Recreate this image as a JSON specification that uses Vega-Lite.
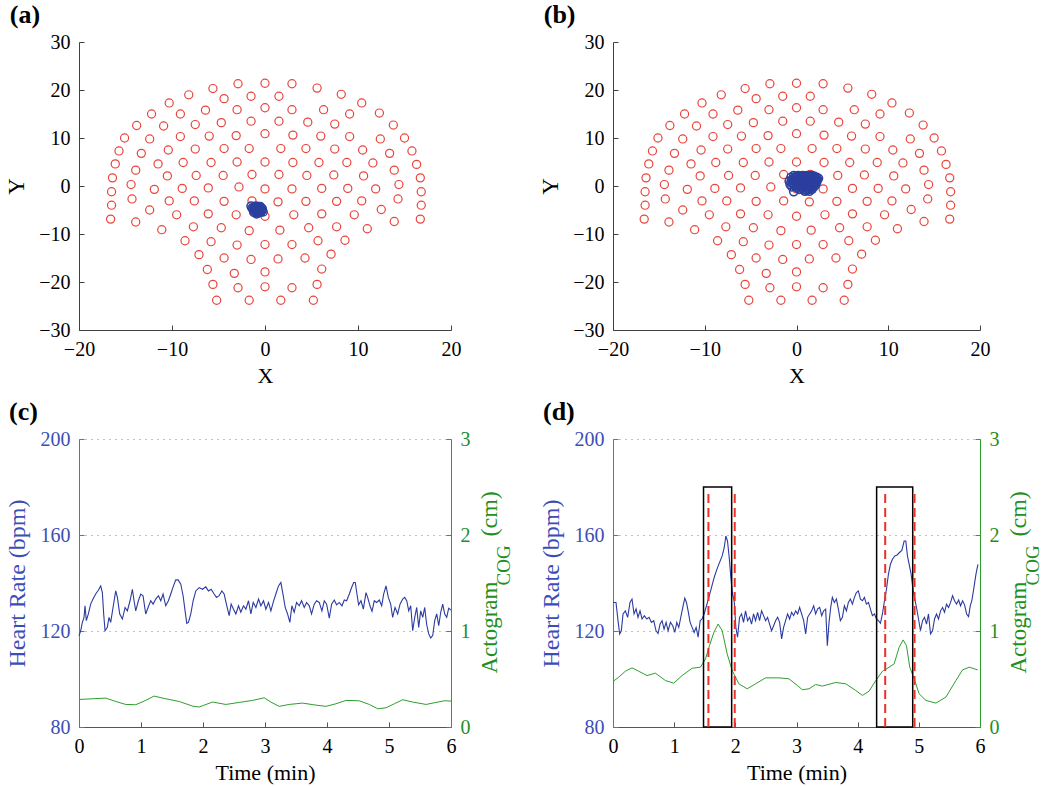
{
  "$schema": "https://vega.github.io/schema/vega-lite/v6.json",
  "background": "white",
  "padding": {"left": 5, "top": 2, "right": 5, "bottom": 5},
  "bounds": "flush",
  "columns": 2,
  "spacing": {"row": 109, "column": 162},
  "concat": [
    {
      "width": 372, "height": 288,
      "title": {"text": "(a)", "font": "Liberation Serif", "fontSize": 26, "fontWeight": "bold", "anchor": "start", "frame": "bounds", "color": "#000000", "offset": 4, "dx": 4},
      "layer": [
        {
          "data": {"name": "elec"},
          "mark": {"type": "point", "shape": "circle", "filled": false, "color": "#e8453c", "size": 66, "strokeWidth": 1.2, "opacity": 1},
          "encoding": {
            "x": {"field": "x", "type": "quantitative", "scale": {"domain": [-20, 20], "nice": false}, "axis": {"title": "X", "values": [-20, -10, 0, 10, 20], "format": "d", "labelFont": "Liberation Serif", "labelFontSize": 20, "titleFont": "Liberation Serif", "titleFontSize": 22, "titleFontWeight": "normal", "tickSize": -5, "labelPadding": 14, "titlePadding": 6, "domainColor": "#404040", "tickColor": "#404040", "labelColor": "#000000", "titleColor": "#000000", "grid": false, "labelFlush": false, "labelOverlap": false}},
            "y": {"field": "y", "type": "quantitative", "scale": {"domain": [-30, 30], "nice": false}, "axis": {"title": "Y", "values": [-30, -20, -10, 0, 10, 20, 30], "format": "d", "labelFont": "Liberation Serif", "labelFontSize": 20, "titleFont": "Liberation Serif", "titleFontSize": 23, "titleFontWeight": "normal", "tickSize": -5, "labelPadding": 14, "titlePadding": 10, "domainColor": "#404040", "tickColor": "#404040", "labelColor": "#000000", "titleColor": "#000000", "grid": false, "labelFlush": false, "labelOverlap": false}}
          }
        },
        {
          "data": {"name": "cogA"},
          "mark": {"type": "point", "shape": "circle", "filled": false, "color": "#2b3f9e", "size": 66, "strokeWidth": 1.5, "opacity": 1},
          "encoding": {
            "x": {"field": "x", "type": "quantitative"},
            "y": {"field": "y", "type": "quantitative"}
          }
        }
      ]
    },
    {
      "width": 367, "height": 288,
      "title": {"text": "(b)", "font": "Liberation Serif", "fontSize": 26, "fontWeight": "bold", "anchor": "start", "frame": "bounds", "color": "#000000", "offset": 4, "dx": 4},
      "layer": [
        {
          "data": {"name": "elec"},
          "mark": {"type": "point", "shape": "circle", "filled": false, "color": "#e8453c", "size": 66, "strokeWidth": 1.2, "opacity": 1},
          "encoding": {
            "x": {"field": "x", "type": "quantitative", "scale": {"domain": [-20, 20], "nice": false}, "axis": {"title": "X", "values": [-20, -10, 0, 10, 20], "format": "d", "labelFont": "Liberation Serif", "labelFontSize": 20, "titleFont": "Liberation Serif", "titleFontSize": 22, "titleFontWeight": "normal", "tickSize": -5, "labelPadding": 14, "titlePadding": 6, "domainColor": "#404040", "tickColor": "#404040", "labelColor": "#000000", "titleColor": "#000000", "grid": false, "labelFlush": false, "labelOverlap": false}},
            "y": {"field": "y", "type": "quantitative", "scale": {"domain": [-30, 30], "nice": false}, "axis": {"title": "Y", "values": [-30, -20, -10, 0, 10, 20, 30], "format": "d", "labelFont": "Liberation Serif", "labelFontSize": 20, "titleFont": "Liberation Serif", "titleFontSize": 23, "titleFontWeight": "normal", "tickSize": -5, "labelPadding": 14, "titlePadding": 10, "domainColor": "#404040", "tickColor": "#404040", "labelColor": "#000000", "titleColor": "#000000", "grid": false, "labelFlush": false, "labelOverlap": false}}
          }
        },
        {
          "data": {"name": "cogB"},
          "mark": {"type": "point", "shape": "circle", "filled": false, "color": "#2b3f9e", "size": 66, "strokeWidth": 1.5, "opacity": 1},
          "encoding": {
            "x": {"field": "x", "type": "quantitative"},
            "y": {"field": "y", "type": "quantitative"}
          }
        }
      ]
    },
    {
      "width": 372, "height": 288,
      "title": {"text": "(c)", "font": "Liberation Serif", "fontSize": 26, "fontWeight": "bold", "anchor": "start", "frame": "bounds", "color": "#000000", "offset": 4, "dx": 4},
      "resolve": {"scale": {"y": "independent"}},
      "layer": [
        {
          "data": {"name": "hrC"},
          "mark": {"type": "line", "color": "#2b3ba0", "strokeWidth": 1.1},
          "encoding": {
            "x": {"field": "t", "type": "quantitative", "scale": {"domain": [0, 6], "nice": false}, "axis": {"title": "Time (min)", "values": [0, 1, 2, 3, 4, 5, 6], "format": "d", "labelFont": "Liberation Serif", "labelFontSize": 20, "titleFont": "Liberation Serif", "titleFontSize": 22, "titleFontWeight": "normal", "tickSize": -5, "labelPadding": 14, "titlePadding": 6, "domainColor": "#555555", "tickColor": "#555555", "labelColor": "#000000", "titleColor": "#000000", "grid": false, "labelFlush": false, "labelOverlap": false}},
            "y": {"field": "hr", "type": "quantitative", "scale": {"domain": [80, 200], "nice": false}, "axis": {"title": "Heart Rate (bpm)", "orient": "left", "values": [80, 120, 160, 200], "format": "d", "labelFont": "Liberation Serif", "labelFontSize": 20, "titleFont": "Liberation Serif", "titleFontSize": 24, "titleFontWeight": "normal", "tickSize": -5, "labelPadding": 14, "titlePadding": 11, "labelFlush": false, "labelOverlap": false, "grid": true, "gridColor": "#7080d4", "gridDash": [1, 5], "gridWidth": 1, "domainColor": "#5a6ccc", "tickColor": "#5a6ccc", "labelColor": "#3b4db8", "titleColor": "#3b4db8"}}
          }
        },
        {
          "data": {"name": "actC"},
          "mark": {"type": "line", "color": "#2e9e2e", "strokeWidth": 1},
          "encoding": {
            "x": {"field": "t", "type": "quantitative"},
            "y": {"field": "a", "type": "quantitative", "scale": {"domain": [0, 3], "nice": false}, "axis": {"orient": "right", "values": [0, 1, 2, 3], "format": "d", "labelFont": "Liberation Serif", "labelFontSize": 20, "tickSize": -5, "labelPadding": 14, "labelFlush": false, "labelOverlap": false, "grid": false, "title": "Actogram", "titleFont": "Liberation Serif", "titleFontSize": 23, "titleFontWeight": "normal", "titleAngle": 270, "titleX": 45, "titleY": 234, "titleAlign": "left", "titleBaseline": "alphabetic", "domainColor": "#2e9e2e", "tickColor": "#2e9e2e", "labelColor": "#1f8f1f", "titleColor": "#1f8f1f"}}
          }
        },
        {
          "data": {"name": "actC"},
          "mark": {"type": "line", "strokeOpacity": 0},
          "encoding": {
            "x": {"field": "t", "type": "quantitative"},
            "y": {"field": "a", "type": "quantitative", "scale": {"domain": [0, 3], "nice": false}, "axis": {"orient": "right", "labels": false, "ticks": false, "domain": false, "grid": false, "title": "COG", "titleFont": "Liberation Serif", "titleFontSize": 19, "titleFontWeight": "normal", "titleAngle": 270, "titleX": 58, "titleY": 146, "titleAlign": "left", "titleBaseline": "alphabetic", "titleColor": "#1f8f1f"}}
          }
        },
        {
          "data": {"name": "actC"},
          "mark": {"type": "line", "strokeOpacity": 0},
          "encoding": {
            "x": {"field": "t", "type": "quantitative"},
            "y": {"field": "a", "type": "quantitative", "scale": {"domain": [0, 3], "nice": false}, "axis": {"orient": "right", "labels": false, "ticks": false, "domain": false, "grid": false, "title": "(cm)", "titleFont": "Liberation Serif", "titleFontSize": 24, "titleFontWeight": "normal", "titleAngle": 270, "titleX": 45, "titleY": 97, "titleAlign": "left", "titleBaseline": "alphabetic", "titleColor": "#1f8f1f"}}
          }
        }
      ]
    },
    {
      "width": 367, "height": 288,
      "title": {"text": "(d)", "font": "Liberation Serif", "fontSize": 26, "fontWeight": "bold", "anchor": "start", "frame": "bounds", "color": "#000000", "offset": 4, "dx": 4},
      "resolve": {"scale": {"y": "independent"}},
      "layer": [
        {
          "data": {"name": "hrD"},
          "mark": {"type": "line", "color": "#2b3ba0", "strokeWidth": 1.1},
          "encoding": {
            "x": {"field": "t", "type": "quantitative", "scale": {"domain": [0, 6], "nice": false}, "axis": {"title": "Time (min)", "values": [0, 1, 2, 3, 4, 5, 6], "format": "d", "labelFont": "Liberation Serif", "labelFontSize": 20, "titleFont": "Liberation Serif", "titleFontSize": 22, "titleFontWeight": "normal", "tickSize": -5, "labelPadding": 14, "titlePadding": 6, "domainColor": "#555555", "tickColor": "#555555", "labelColor": "#000000", "titleColor": "#000000", "grid": false, "labelFlush": false, "labelOverlap": false}},
            "y": {"field": "hr", "type": "quantitative", "scale": {"domain": [80, 200], "nice": false}, "axis": {"title": "Heart Rate (bpm)", "orient": "left", "values": [80, 120, 160, 200], "format": "d", "labelFont": "Liberation Serif", "labelFontSize": 20, "titleFont": "Liberation Serif", "titleFontSize": 24, "titleFontWeight": "normal", "tickSize": -5, "labelPadding": 14, "titlePadding": 11, "labelFlush": false, "labelOverlap": false, "grid": true, "gridColor": "#7080d4", "gridDash": [1, 5], "gridWidth": 1, "domainColor": "#5a6ccc", "tickColor": "#5a6ccc", "labelColor": "#3b4db8", "titleColor": "#3b4db8"}}
          }
        },
        {
          "data": {"name": "actD"},
          "mark": {"type": "line", "color": "#2e9e2e", "strokeWidth": 1},
          "encoding": {
            "x": {"field": "t", "type": "quantitative"},
            "y": {"field": "a", "type": "quantitative", "scale": {"domain": [0, 3], "nice": false}, "axis": {"orient": "right", "values": [0, 1, 2, 3], "format": "d", "labelFont": "Liberation Serif", "labelFontSize": 20, "tickSize": -5, "labelPadding": 14, "labelFlush": false, "labelOverlap": false, "grid": false, "title": "Actogram", "titleFont": "Liberation Serif", "titleFontSize": 23, "titleFontWeight": "normal", "titleAngle": 270, "titleX": 45, "titleY": 234, "titleAlign": "left", "titleBaseline": "alphabetic", "domainColor": "#2e9e2e", "tickColor": "#2e9e2e", "labelColor": "#1f8f1f", "titleColor": "#1f8f1f"}}
          }
        },
        {
          "data": {"name": "actD"},
          "mark": {"type": "line", "strokeOpacity": 0},
          "encoding": {
            "x": {"field": "t", "type": "quantitative"},
            "y": {"field": "a", "type": "quantitative", "scale": {"domain": [0, 3], "nice": false}, "axis": {"orient": "right", "labels": false, "ticks": false, "domain": false, "grid": false, "title": "COG", "titleFont": "Liberation Serif", "titleFontSize": 19, "titleFontWeight": "normal", "titleAngle": 270, "titleX": 58, "titleY": 146, "titleAlign": "left", "titleBaseline": "alphabetic", "titleColor": "#1f8f1f"}}
          }
        },
        {
          "data": {"name": "actD"},
          "mark": {"type": "line", "strokeOpacity": 0},
          "encoding": {
            "x": {"field": "t", "type": "quantitative"},
            "y": {"field": "a", "type": "quantitative", "scale": {"domain": [0, 3], "nice": false}, "axis": {"orient": "right", "labels": false, "ticks": false, "domain": false, "grid": false, "title": "(cm)", "titleFont": "Liberation Serif", "titleFontSize": 24, "titleFontWeight": "normal", "titleAngle": 270, "titleX": 45, "titleY": 97, "titleAlign": "left", "titleBaseline": "alphabetic", "titleColor": "#1f8f1f"}}
          }
        },
        {
          "data": {"name": "boxes"},
          "mark": {"type": "rect", "fillOpacity": 0, "stroke": "#000000", "strokeWidth": 1.5},
          "encoding": {
            "x": {"field": "t1", "type": "quantitative"},
            "x2": {"field": "t2"},
            "y": {"field": "lo", "type": "quantitative", "scale": {"domain": [80, 200], "nice": false}, "axis": null},
            "y2": {"field": "hi"}
          }
        },
        {
          "data": {"name": "dashes"},
          "mark": {"type": "rule", "color": "#e8332a", "strokeDash": [9, 5], "strokeWidth": 2},
          "encoding": {
            "x": {"field": "t", "type": "quantitative"},
            "y": {"field": "lo", "type": "quantitative", "scale": {"domain": [80, 200], "nice": false}, "axis": null},
            "y2": {"field": "hi"}
          }
        }
      ]
    }
  ],
  "datasets": {
    "elec": [
      {"x": -2.9, "y": 21.3}, {"x": 0, "y": 21.4}, {"x": 2.9, "y": 21.3}, {"x": -5.6, "y": 20.3}, {"x": 5.6, "y": 20.4}, {"x": -8.2, "y": 19.0}, {"x": 8.2, "y": 19.1}, {"x": -4.4, "y": 18.2}, {"x": -1.5, "y": 18.7}, {"x": 1.5, "y": 18.7}, {"x": -10.3, "y": 17.3}, {"x": 10.4, "y": 17.3},
      {"x": -12.2, "y": 15.0}, {"x": -9.1, "y": 15.0}, {"x": -6.4, "y": 15.8}, {"x": -3.0, "y": 15.9}, {"x": 0, "y": 16.3}, {"x": 2.9, "y": 15.9}, {"x": 6.3, "y": 15.9}, {"x": 9.1, "y": 15.0}, {"x": 12.3, "y": 15.2},
      {"x": -13.8, "y": 12.6}, {"x": -10.9, "y": 12.5}, {"x": -7.5, "y": 12.8}, {"x": -4.7, "y": 13.2}, {"x": -1.5, "y": 13.5}, {"x": 1.5, "y": 13.5}, {"x": 4.6, "y": 13.3}, {"x": 7.5, "y": 12.9}, {"x": 13.8, "y": 12.7},
      {"x": -15.1, "y": 10.0}, {"x": -12.4, "y": 9.8}, {"x": -9.1, "y": 10.3}, {"x": -6.0, "y": 10.4}, {"x": -3.1, "y": 10.5}, {"x": 0, "y": 10.9}, {"x": 3.0, "y": 10.6}, {"x": 6.0, "y": 10.4}, {"x": 9.1, "y": 10.3}, {"x": 12.4, "y": 9.8}, {"x": 15.0, "y": 10.0},
      {"x": -15.7, "y": 7.3}, {"x": -13.3, "y": 6.8}, {"x": -10.4, "y": 7.5}, {"x": -7.5, "y": 7.7}, {"x": -4.4, "y": 7.8}, {"x": -1.7, "y": 7.8}, {"x": 1.7, "y": 7.8}, {"x": 4.4, "y": 7.8}, {"x": 7.5, "y": 7.7}, {"x": 10.5, "y": 7.5}, {"x": 13.4, "y": 6.8}, {"x": 15.8, "y": 7.3},
      {"x": -16.1, "y": 4.6}, {"x": -13.9, "y": 3.3}, {"x": -11.5, "y": 4.6}, {"x": -8.8, "y": 4.9}, {"x": -5.8, "y": 4.9}, {"x": -3.0, "y": 5.0}, {"x": 0, "y": 5.0}, {"x": 3.0, "y": 4.9}, {"x": 5.8, "y": 4.9}, {"x": 8.8, "y": 4.9}, {"x": 11.6, "y": 4.8}, {"x": 13.9, "y": 3.3}, {"x": 16.3, "y": 4.5},
      {"x": -16.4, "y": 1.7}, {"x": -10.5, "y": 2.1}, {"x": -7.4, "y": 2.2}, {"x": -4.5, "y": 2.2}, {"x": -1.4, "y": 2.4}, {"x": 1.5, "y": 2.4}, {"x": 4.5, "y": 2.2}, {"x": 7.4, "y": 2.3}, {"x": 10.6, "y": 2.1}, {"x": 16.7, "y": 1.7},
      {"x": -14.4, "y": 0.3}, {"x": 14.4, "y": 0.3},
      {"x": -16.5, "y": -1.2}, {"x": -11.9, "y": -0.7}, {"x": -8.9, "y": -0.5}, {"x": -6.1, "y": -0.4}, {"x": -2.8, "y": -0.2}, {"x": 0, "y": -0.6}, {"x": 2.9, "y": -0.6}, {"x": 6.1, "y": -0.5}, {"x": 8.9, "y": -0.5}, {"x": 11.9, "y": -0.6}, {"x": 16.8, "y": -1.2},
      {"x": -14.3, "y": -2.7}, {"x": -10.3, "y": -3.1}, {"x": -7.6, "y": -3.1}, {"x": -4.4, "y": -3.2}, {"x": -1.4, "y": -3.1}, {"x": 1.4, "y": -3.3}, {"x": 4.4, "y": -3.2}, {"x": 7.7, "y": -3.2}, {"x": 10.4, "y": -3.1}, {"x": 14.3, "y": -2.7},
      {"x": -16.5, "y": -4.0}, {"x": 16.8, "y": -4.0}, {"x": -12.4, "y": -5.0}, {"x": 12.5, "y": -4.9},
      {"x": -16.6, "y": -6.9}, {"x": -13.9, "y": -7.5}, {"x": -9.5, "y": -6.0}, {"x": -6.1, "y": -5.8}, {"x": -3.1, "y": -6.0}, {"x": 0, "y": -6.3}, {"x": 3.1, "y": -6.0}, {"x": 6.1, "y": -5.8}, {"x": 9.6, "y": -6.0}, {"x": 13.9, "y": -7.4}, {"x": 16.7, "y": -6.9},
      {"x": -11.1, "y": -9.1}, {"x": -7.7, "y": -8.5}, {"x": -4.7, "y": -8.7}, {"x": -1.7, "y": -9.3}, {"x": 1.6, "y": -9.2}, {"x": 4.7, "y": -8.7}, {"x": 7.7, "y": -8.5}, {"x": 11.0, "y": -8.9},
      {"x": -8.6, "y": -11.4}, {"x": -5.8, "y": -11.6}, {"x": -3.0, "y": -12.3}, {"x": 0, "y": -12.2}, {"x": 2.9, "y": -12.2}, {"x": 5.7, "y": -11.4}, {"x": 8.6, "y": -11.3},
      {"x": -7.1, "y": -14.3}, {"x": -4.4, "y": -15.0}, {"x": -1.5, "y": -15.3}, {"x": 1.4, "y": -15.2}, {"x": 4.3, "y": -15.0}, {"x": 7.1, "y": -14.2},
      {"x": -6.2, "y": -17.4}, {"x": -3.3, "y": -18.2}, {"x": 0, "y": -17.9}, {"x": 6.1, "y": -17.3},
      {"x": -5.6, "y": -20.5}, {"x": -2.9, "y": -21.2}, {"x": 0, "y": -21.0}, {"x": 2.9, "y": -21.2}, {"x": 5.6, "y": -20.5},
      {"x": -5.2, "y": -23.8}, {"x": -1.7, "y": -23.8}, {"x": 1.7, "y": -23.8}, {"x": 5.2, "y": -23.8}
    ],
    "cogA": [
      {"x": -1.2, "y": -4.4}, {"x": -1.0, "y": -4.2}, {"x": -0.7, "y": -4.3}, {"x": -0.5, "y": -4.5}, {"x": -1.3, "y": -4.8}, {"x": -1.1, "y": -4.9}, {"x": -0.9, "y": -4.7}, {"x": -0.6, "y": -4.8}, {"x": -0.4, "y": -4.9}, {"x": -1.2, "y": -5.2},
      {"x": -1.0, "y": -5.3}, {"x": -0.8, "y": -5.1}, {"x": -0.6, "y": -5.2}, {"x": -0.4, "y": -5.3}, {"x": -0.9, "y": -5.5}, {"x": -0.7, "y": -5.6}, {"x": -0.5, "y": -5.5}, {"x": -1.4, "y": -4.6}, {"x": -0.3, "y": -5.0}, {"x": -0.8, "y": -4.5},
      {"x": -1.1, "y": -4.5}, {"x": -0.6, "y": -5.0}, {"x": -1.0, "y": -5.0}, {"x": -0.7, "y": -4.9}, {"x": -0.2, "y": -5.4}, {"x": -1.5, "y": -4.2}, {"x": -0.3, "y": -4.7}, {"x": -0.9, "y": -5.8}, {"x": -1.2, "y": -5.5}, {"x": -0.5, "y": -4.3}
    ],
    "cogB": [
      {"x": -0.3, "y": 2.2}, {"x": 0.2, "y": 2.2}, {"x": 0.7, "y": 2.2}, {"x": 1.2, "y": 2.2}, {"x": 1.7, "y": 2.2},
      {"x": -0.6, "y": 1.8}, {"x": -0.1, "y": 1.8}, {"x": 0.4, "y": 1.8}, {"x": 0.9, "y": 1.8}, {"x": 1.4, "y": 1.8}, {"x": 1.9, "y": 1.8}, {"x": 2.2, "y": 1.8},
      {"x": -0.5, "y": 1.3}, {"x": 0.0, "y": 1.3}, {"x": 0.5, "y": 1.3}, {"x": 1.0, "y": 1.3}, {"x": 1.5, "y": 1.3}, {"x": 2.0, "y": 1.3}, {"x": 2.3, "y": 1.3},
      {"x": -0.6, "y": 0.8}, {"x": -0.1, "y": 0.8}, {"x": 0.4, "y": 0.8}, {"x": 0.9, "y": 0.8}, {"x": 1.4, "y": 0.8}, {"x": 1.9, "y": 0.8}, {"x": 2.2, "y": 0.8},
      {"x": -0.7, "y": 0.3}, {"x": -0.2, "y": 0.3}, {"x": 0.3, "y": 0.3}, {"x": 0.8, "y": 0.3}, {"x": 1.3, "y": 0.3}, {"x": 1.8, "y": 0.3}, {"x": 2.1, "y": 0.3},
      {"x": -0.5, "y": -0.2}, {"x": 0.0, "y": -0.2}, {"x": 0.5, "y": -0.2}, {"x": 1.0, "y": -0.2}, {"x": 1.5, "y": -0.2}, {"x": 1.9, "y": -0.2},
      {"x": 0.3, "y": -0.7}, {"x": 0.8, "y": -0.7}, {"x": 1.3, "y": -0.7}, {"x": 1.7, "y": -0.7},
      {"x": 0.9, "y": -1.1}, {"x": 1.4, "y": -1.1}, {"x": -0.3, "y": -1.2}, {"x": 2.4, "y": 1.6}, {"x": -0.8, "y": 1.0},
      {"x": -0.05, "y": 2.0}, {"x": 0.45, "y": 2.0}, {"x": 0.95, "y": 2.0}, {"x": 1.45, "y": 2.0}, {"x": 1.95, "y": 2.0},
      {"x": -0.35, "y": 1.55}, {"x": 0.15, "y": 1.55}, {"x": 0.65, "y": 1.55}, {"x": 1.15, "y": 1.55}, {"x": 1.65, "y": 1.55}, {"x": 2.1, "y": 1.55},
      {"x": -0.35, "y": 1.05}, {"x": 0.15, "y": 1.05}, {"x": 0.65, "y": 1.05}, {"x": 1.15, "y": 1.05}, {"x": 1.65, "y": 1.05}, {"x": 2.1, "y": 1.05},
      {"x": -0.45, "y": 0.55}, {"x": 0.05, "y": 0.55}, {"x": 0.55, "y": 0.55}, {"x": 1.05, "y": 0.55}, {"x": 1.55, "y": 0.55}, {"x": 2.0, "y": 0.55},
      {"x": -0.25, "y": 0.05}, {"x": 0.25, "y": 0.05}, {"x": 0.75, "y": 0.05}, {"x": 1.25, "y": 0.05}, {"x": 1.75, "y": 0.05},
      {"x": 0.1, "y": -0.45}, {"x": 0.6, "y": -0.45}, {"x": 1.1, "y": -0.45}, {"x": 1.6, "y": -0.45}, {"x": 1.1, "y": -0.9}
    ],
    "hrC": [
      {"t": 0, "hr": 118}, {"t": 0.027, "hr": 120.1}, {"t": 0.054, "hr": 123.6}, {"t": 0.081, "hr": 125.7}, {"t": 0.097, "hr": 130.5}, {"t": 0.118, "hr": 124.3}, {"t": 0.151, "hr": 127.1}, {"t": 0.188, "hr": 131.2}, {"t": 0.226, "hr": 133.3}, {"t": 0.269, "hr": 135.4},
      {"t": 0.312, "hr": 137.0}, {"t": 0.35, "hr": 138.8}, {"t": 0.377, "hr": 136.0}, {"t": 0.398, "hr": 127.1}, {"t": 0.42, "hr": 120.1}, {"t": 0.457, "hr": 121.5}, {"t": 0.484, "hr": 125.7}, {"t": 0.511, "hr": 123.6}, {"t": 0.549, "hr": 129.8}, {"t": 0.592, "hr": 136.7},
      {"t": 0.619, "hr": 134.0}, {"t": 0.657, "hr": 127.1}, {"t": 0.7, "hr": 125.0}, {"t": 0.743, "hr": 129.8}, {"t": 0.78, "hr": 128.4}, {"t": 0.823, "hr": 132.6}, {"t": 0.861, "hr": 137.4}, {"t": 0.888, "hr": 132.6}, {"t": 0.915, "hr": 128.4}, {"t": 0.958, "hr": 132.6},
      {"t": 0.996, "hr": 135.4}, {"t": 1.033, "hr": 134.7}, {"t": 1.076, "hr": 127.1}, {"t": 1.114, "hr": 129.8}, {"t": 1.157, "hr": 132.6}, {"t": 1.195, "hr": 131.2}, {"t": 1.238, "hr": 133.3}, {"t": 1.281, "hr": 134.7}, {"t": 1.319, "hr": 132.6}, {"t": 1.356, "hr": 135.4},
      {"t": 1.399, "hr": 130.5}, {"t": 1.442, "hr": 132.6}, {"t": 1.48, "hr": 135.4}, {"t": 1.518, "hr": 138.4}, {"t": 1.561, "hr": 141.3}, {"t": 1.598, "hr": 141.3}, {"t": 1.642, "hr": 139.5}, {"t": 1.679, "hr": 134.7}, {"t": 1.711, "hr": 128.4}, {"t": 1.738, "hr": 123.2},
      {"t": 1.765, "hr": 123.6}, {"t": 1.803, "hr": 127.1}, {"t": 1.841, "hr": 132.6}, {"t": 1.884, "hr": 136.7}, {"t": 1.938, "hr": 138.1}, {"t": 1.991, "hr": 137.4}, {"t": 2.045, "hr": 138.4}, {"t": 2.088, "hr": 136.7}, {"t": 2.131, "hr": 137.4}, {"t": 2.18, "hr": 135.4},
      {"t": 2.217, "hr": 134.0}, {"t": 2.26, "hr": 134.7}, {"t": 2.304, "hr": 136.7}, {"t": 2.341, "hr": 135.4}, {"t": 2.384, "hr": 130.5}, {"t": 2.422, "hr": 126.4}, {"t": 2.454, "hr": 131.2}, {"t": 2.492, "hr": 129.1}, {"t": 2.53, "hr": 127.1}, {"t": 2.573, "hr": 130.5},
      {"t": 2.61, "hr": 127.8}, {"t": 2.653, "hr": 130.5}, {"t": 2.691, "hr": 129.1}, {"t": 2.734, "hr": 132.6}, {"t": 2.772, "hr": 127.1}, {"t": 2.81, "hr": 131.9}, {"t": 2.853, "hr": 129.8}, {"t": 2.896, "hr": 133.3}, {"t": 2.933, "hr": 130.5}, {"t": 2.976, "hr": 132.6},
      {"t": 3.014, "hr": 129.1}, {"t": 3.057, "hr": 131.9}, {"t": 3.095, "hr": 128.4}, {"t": 3.132, "hr": 131.9}, {"t": 3.175, "hr": 135.4}, {"t": 3.218, "hr": 138.8}, {"t": 3.256, "hr": 140.2}, {"t": 3.294, "hr": 134.7}, {"t": 3.326, "hr": 129.8}, {"t": 3.364, "hr": 127.1},
      {"t": 3.401, "hr": 123.6}, {"t": 3.434, "hr": 130.5}, {"t": 3.471, "hr": 127.8}, {"t": 3.509, "hr": 131.9}, {"t": 3.552, "hr": 130.5}, {"t": 3.59, "hr": 132.6}, {"t": 3.633, "hr": 129.8}, {"t": 3.671, "hr": 131.9}, {"t": 3.714, "hr": 130.5}, {"t": 3.751, "hr": 127.1},
      {"t": 3.794, "hr": 131.2}, {"t": 3.832, "hr": 132.6}, {"t": 3.875, "hr": 131.9}, {"t": 3.918, "hr": 128.4}, {"t": 3.956, "hr": 132.6}, {"t": 3.994, "hr": 131.2}, {"t": 4.037, "hr": 125.4}, {"t": 4.074, "hr": 131.2}, {"t": 4.117, "hr": 132.9}, {"t": 4.155, "hr": 130.9},
      {"t": 4.198, "hr": 131.9}, {"t": 4.241, "hr": 130.5}, {"t": 4.279, "hr": 132.9}, {"t": 4.317, "hr": 132.6}, {"t": 4.36, "hr": 135.4}, {"t": 4.397, "hr": 138.1}, {"t": 4.43, "hr": 140.2}, {"t": 4.456, "hr": 140.2}, {"t": 4.483, "hr": 135.4}, {"t": 4.51, "hr": 130.9},
      {"t": 4.548, "hr": 132.6}, {"t": 4.586, "hr": 129.1}, {"t": 4.629, "hr": 136.0}, {"t": 4.656, "hr": 134.0}, {"t": 4.693, "hr": 130.5}, {"t": 4.726, "hr": 128.2}, {"t": 4.763, "hr": 132.6}, {"t": 4.801, "hr": 131.9}, {"t": 4.844, "hr": 132.9}, {"t": 4.882, "hr": 130.5},
      {"t": 4.914, "hr": 135.4}, {"t": 4.952, "hr": 138.8}, {"t": 4.989, "hr": 134.0}, {"t": 5.027, "hr": 131.2}, {"t": 5.059, "hr": 125.7}, {"t": 5.097, "hr": 129.8}, {"t": 5.14, "hr": 127.1}, {"t": 5.178, "hr": 131.2}, {"t": 5.221, "hr": 133.3}, {"t": 5.253, "hr": 134.0},
      {"t": 5.286, "hr": 132.6}, {"t": 5.318, "hr": 128.4}, {"t": 5.35, "hr": 130.5}, {"t": 5.382, "hr": 120.1}, {"t": 5.415, "hr": 125.7}, {"t": 5.447, "hr": 129.8}, {"t": 5.479, "hr": 121.5}, {"t": 5.511, "hr": 128.4}, {"t": 5.544, "hr": 125.7}, {"t": 5.576, "hr": 129.8},
      {"t": 5.608, "hr": 122.6}, {"t": 5.641, "hr": 118.8}, {"t": 5.673, "hr": 117.1}, {"t": 5.705, "hr": 118.1}, {"t": 5.737, "hr": 124.3}, {"t": 5.77, "hr": 127.1}, {"t": 5.802, "hr": 122.2}, {"t": 5.834, "hr": 127.8}, {"t": 5.866, "hr": 131.2}, {"t": 5.899, "hr": 127.1},
      {"t": 5.931, "hr": 125.7}, {"t": 5.963, "hr": 129.5}, {"t": 6.0, "hr": 128.7}
    ],
    "actC": [
      {"t": 0, "a": 0.287}, {"t": 0.215, "a": 0.294}, {"t": 0.431, "a": 0.301}, {"t": 0.592, "a": 0.266}, {"t": 0.754, "a": 0.235}, {"t": 0.915, "a": 0.232}, {"t": 1.076, "a": 0.277}, {"t": 1.211, "a": 0.322}, {"t": 1.399, "a": 0.294}, {"t": 1.615, "a": 0.266},
      {"t": 1.83, "a": 0.218}, {"t": 1.938, "a": 0.208}, {"t": 2.153, "a": 0.26}, {"t": 2.368, "a": 0.235}, {"t": 2.583, "a": 0.256}, {"t": 2.799, "a": 0.277}, {"t": 2.987, "a": 0.304}, {"t": 3.095, "a": 0.26}, {"t": 3.229, "a": 0.215}, {"t": 3.391, "a": 0.235},
      {"t": 3.606, "a": 0.249}, {"t": 3.821, "a": 0.228}, {"t": 3.983, "a": 0.215}, {"t": 4.144, "a": 0.242}, {"t": 4.306, "a": 0.277}, {"t": 4.521, "a": 0.273}, {"t": 4.682, "a": 0.235}, {"t": 4.817, "a": 0.19}, {"t": 4.952, "a": 0.2}, {"t": 5.086, "a": 0.242},
      {"t": 5.221, "a": 0.284}, {"t": 5.382, "a": 0.26}, {"t": 5.598, "a": 0.235}, {"t": 5.759, "a": 0.256}, {"t": 5.893, "a": 0.273}, {"t": 6.0, "a": 0.27}
    ],
    "hrD": [
      {"t": 0, "hr": 131.9}, {"t": 0.049, "hr": 131.9}, {"t": 0.082, "hr": 124.3}, {"t": 0.109, "hr": 118.8}, {"t": 0.136, "hr": 120.1}, {"t": 0.164, "hr": 127.1}, {"t": 0.202, "hr": 128.4}, {"t": 0.24, "hr": 125.7}, {"t": 0.278, "hr": 131.9}, {"t": 0.311, "hr": 133.3},
      {"t": 0.344, "hr": 127.1}, {"t": 0.377, "hr": 129.2}, {"t": 0.409, "hr": 125.7}, {"t": 0.442, "hr": 128.4}, {"t": 0.475, "hr": 125.0}, {"t": 0.513, "hr": 126.4}, {"t": 0.551, "hr": 125.0}, {"t": 0.59, "hr": 125.7}, {"t": 0.628, "hr": 123.6}, {"t": 0.666, "hr": 124.3},
      {"t": 0.704, "hr": 120.1}, {"t": 0.737, "hr": 119.0}, {"t": 0.77, "hr": 122.9}, {"t": 0.802, "hr": 124.3}, {"t": 0.835, "hr": 120.8}, {"t": 0.868, "hr": 123.6}, {"t": 0.901, "hr": 120.1}, {"t": 0.939, "hr": 123.6}, {"t": 0.977, "hr": 122.2}, {"t": 1.01, "hr": 119.4},
      {"t": 1.043, "hr": 123.6}, {"t": 1.075, "hr": 121.5}, {"t": 1.108, "hr": 125.7}, {"t": 1.141, "hr": 129.8}, {"t": 1.174, "hr": 133.7}, {"t": 1.201, "hr": 131.9}, {"t": 1.228, "hr": 128.4}, {"t": 1.261, "hr": 123.6}, {"t": 1.294, "hr": 121.5}, {"t": 1.327, "hr": 119.4},
      {"t": 1.359, "hr": 121.5}, {"t": 1.392, "hr": 117.4}, {"t": 1.425, "hr": 124.3}, {"t": 1.457, "hr": 125.0}, {"t": 1.49, "hr": 127.1}, {"t": 1.528, "hr": 130.5}, {"t": 1.567, "hr": 134.0}, {"t": 1.61, "hr": 138.1}, {"t": 1.654, "hr": 142.3}, {"t": 1.698, "hr": 145.7},
      {"t": 1.741, "hr": 148.5}, {"t": 1.785, "hr": 151.3}, {"t": 1.818, "hr": 154.7}, {"t": 1.845, "hr": 159.6}, {"t": 1.872, "hr": 157.5}, {"t": 1.9, "hr": 150.6}, {"t": 1.927, "hr": 142.3}, {"t": 1.954, "hr": 135.4}, {"t": 1.981, "hr": 132.6}, {"t": 2.009, "hr": 121.5},
      {"t": 2.036, "hr": 117.4}, {"t": 2.069, "hr": 125.7}, {"t": 2.102, "hr": 127.1}, {"t": 2.134, "hr": 123.6}, {"t": 2.167, "hr": 128.4}, {"t": 2.2, "hr": 124.3}, {"t": 2.233, "hr": 125.7}, {"t": 2.265, "hr": 122.9}, {"t": 2.298, "hr": 127.1}, {"t": 2.331, "hr": 124.3},
      {"t": 2.364, "hr": 127.8}, {"t": 2.396, "hr": 124.3}, {"t": 2.429, "hr": 128.4}, {"t": 2.462, "hr": 126.4}, {"t": 2.495, "hr": 124.3}, {"t": 2.527, "hr": 125.7}, {"t": 2.56, "hr": 122.9}, {"t": 2.593, "hr": 120.1}, {"t": 2.626, "hr": 122.2}, {"t": 2.658, "hr": 124.3},
      {"t": 2.691, "hr": 125.7}, {"t": 2.724, "hr": 123.6}, {"t": 2.757, "hr": 116.7}, {"t": 2.789, "hr": 121.5}, {"t": 2.822, "hr": 124.3}, {"t": 2.855, "hr": 127.1}, {"t": 2.888, "hr": 125.0}, {"t": 2.92, "hr": 127.8}, {"t": 2.953, "hr": 126.4}, {"t": 2.986, "hr": 128.4},
      {"t": 3.019, "hr": 127.1}, {"t": 3.051, "hr": 129.8}, {"t": 3.084, "hr": 127.1}, {"t": 3.117, "hr": 124.3}, {"t": 3.15, "hr": 118.8}, {"t": 3.182, "hr": 125.7}, {"t": 3.215, "hr": 127.1}, {"t": 3.248, "hr": 128.4}, {"t": 3.281, "hr": 130.5}, {"t": 3.313, "hr": 127.1},
      {"t": 3.346, "hr": 129.2}, {"t": 3.379, "hr": 129.8}, {"t": 3.412, "hr": 126.4}, {"t": 3.444, "hr": 128.4}, {"t": 3.477, "hr": 129.1}, {"t": 3.504, "hr": 113.9}, {"t": 3.532, "hr": 123.6}, {"t": 3.559, "hr": 129.8}, {"t": 3.586, "hr": 134.0}, {"t": 3.619, "hr": 131.9},
      {"t": 3.652, "hr": 133.3}, {"t": 3.685, "hr": 129.1}, {"t": 3.717, "hr": 124.3}, {"t": 3.75, "hr": 125.7}, {"t": 3.783, "hr": 130.5}, {"t": 3.816, "hr": 128.4}, {"t": 3.848, "hr": 131.9}, {"t": 3.881, "hr": 133.3}, {"t": 3.914, "hr": 131.2}, {"t": 3.947, "hr": 134.0},
      {"t": 3.979, "hr": 136.0}, {"t": 4.012, "hr": 136.7}, {"t": 4.045, "hr": 133.3}, {"t": 4.078, "hr": 132.6}, {"t": 4.11, "hr": 134.0}, {"t": 4.143, "hr": 131.2}, {"t": 4.176, "hr": 131.9}, {"t": 4.209, "hr": 129.1}, {"t": 4.241, "hr": 126.4}, {"t": 4.274, "hr": 127.1},
      {"t": 4.307, "hr": 125.0}, {"t": 4.34, "hr": 124.3}, {"t": 4.372, "hr": 123.2}, {"t": 4.405, "hr": 127.1}, {"t": 4.438, "hr": 132.6}, {"t": 4.471, "hr": 137.4}, {"t": 4.503, "hr": 143.7}, {"t": 4.536, "hr": 147.8}, {"t": 4.569, "hr": 149.9}, {"t": 4.607, "hr": 151.3},
      {"t": 4.645, "hr": 151.7}, {"t": 4.683, "hr": 152.7}, {"t": 4.722, "hr": 153.6}, {"t": 4.76, "hr": 157.5}, {"t": 4.787, "hr": 157.5}, {"t": 4.814, "hr": 151.3}, {"t": 4.842, "hr": 147.8}, {"t": 4.874, "hr": 143.7}, {"t": 4.907, "hr": 136.7}, {"t": 4.934, "hr": 133.3},
      {"t": 4.962, "hr": 129.8}, {"t": 4.995, "hr": 125.0}, {"t": 5.027, "hr": 120.1}, {"t": 5.06, "hr": 124.3}, {"t": 5.093, "hr": 125.7}, {"t": 5.126, "hr": 122.9}, {"t": 5.158, "hr": 127.1}, {"t": 5.191, "hr": 118.8}, {"t": 5.224, "hr": 120.1}, {"t": 5.257, "hr": 125.0},
      {"t": 5.289, "hr": 127.1}, {"t": 5.322, "hr": 125.0}, {"t": 5.355, "hr": 128.4}, {"t": 5.388, "hr": 129.8}, {"t": 5.42, "hr": 127.8}, {"t": 5.453, "hr": 131.2}, {"t": 5.486, "hr": 129.8}, {"t": 5.519, "hr": 131.9}, {"t": 5.551, "hr": 134.7}, {"t": 5.584, "hr": 132.6},
      {"t": 5.617, "hr": 131.2}, {"t": 5.65, "hr": 132.9}, {"t": 5.682, "hr": 130.5}, {"t": 5.715, "hr": 132.6}, {"t": 5.748, "hr": 130.9}, {"t": 5.781, "hr": 127.1}, {"t": 5.813, "hr": 126.0}, {"t": 5.841, "hr": 130.5}, {"t": 5.868, "hr": 132.9}, {"t": 5.901, "hr": 138.1},
      {"t": 5.934, "hr": 143.7}, {"t": 5.966, "hr": 147.8}
    ],
    "actD": [
      {"t": 0, "a": 0.474}, {"t": 0.093, "a": 0.519}, {"t": 0.202, "a": 0.581}, {"t": 0.311, "a": 0.616}, {"t": 0.42, "a": 0.581}, {"t": 0.557, "a": 0.536}, {"t": 0.693, "a": 0.561}, {"t": 0.857, "a": 0.484}, {"t": 0.993, "a": 0.457}, {"t": 1.13, "a": 0.536},
      {"t": 1.294, "a": 0.612}, {"t": 1.43, "a": 0.623}, {"t": 1.512, "a": 0.709}, {"t": 1.578, "a": 0.848}, {"t": 1.649, "a": 0.986}, {"t": 1.719, "a": 1.073}, {"t": 1.785, "a": 1.003}, {"t": 1.867, "a": 0.761}, {"t": 1.949, "a": 0.588}, {"t": 2.058, "a": 0.45},
      {"t": 2.194, "a": 0.398}, {"t": 2.331, "a": 0.45}, {"t": 2.495, "a": 0.512}, {"t": 2.713, "a": 0.512}, {"t": 2.877, "a": 0.502}, {"t": 3.013, "a": 0.433}, {"t": 3.095, "a": 0.388}, {"t": 3.204, "a": 0.398}, {"t": 3.313, "a": 0.443}, {"t": 3.423, "a": 0.426},
      {"t": 3.641, "a": 0.464}, {"t": 3.805, "a": 0.45}, {"t": 3.968, "a": 0.381}, {"t": 4.078, "a": 0.329}, {"t": 4.187, "a": 0.374}, {"t": 4.296, "a": 0.484}, {"t": 4.405, "a": 0.581}, {"t": 4.514, "a": 0.623}, {"t": 4.596, "a": 0.657}, {"t": 4.678, "a": 0.83},
      {"t": 4.743, "a": 0.907}, {"t": 4.798, "a": 0.848}, {"t": 4.852, "a": 0.623}, {"t": 4.923, "a": 0.502}, {"t": 5.005, "a": 0.346}, {"t": 5.115, "a": 0.277}, {"t": 5.278, "a": 0.249}, {"t": 5.442, "a": 0.311}, {"t": 5.606, "a": 0.484}, {"t": 5.715, "a": 0.595},
      {"t": 5.824, "a": 0.623}, {"t": 5.961, "a": 0.595}
    ],
    "boxes": [
      {"t1": 1.48, "t2": 1.94, "lo": 80, "hi": 180},
      {"t1": 4.31, "t2": 4.9, "lo": 80, "hi": 180}
    ],
    "dashes": [
      {"t": 1.56, "lo": 80, "hi": 178.5},
      {"t": 1.99, "lo": 80, "hi": 178.5},
      {"t": 4.45, "lo": 80, "hi": 178.5},
      {"t": 4.93, "lo": 80, "hi": 178.5}
    ]
  },
  "config": {
    "font": "Liberation Serif",
    "view": {"stroke": null}
  }
}
